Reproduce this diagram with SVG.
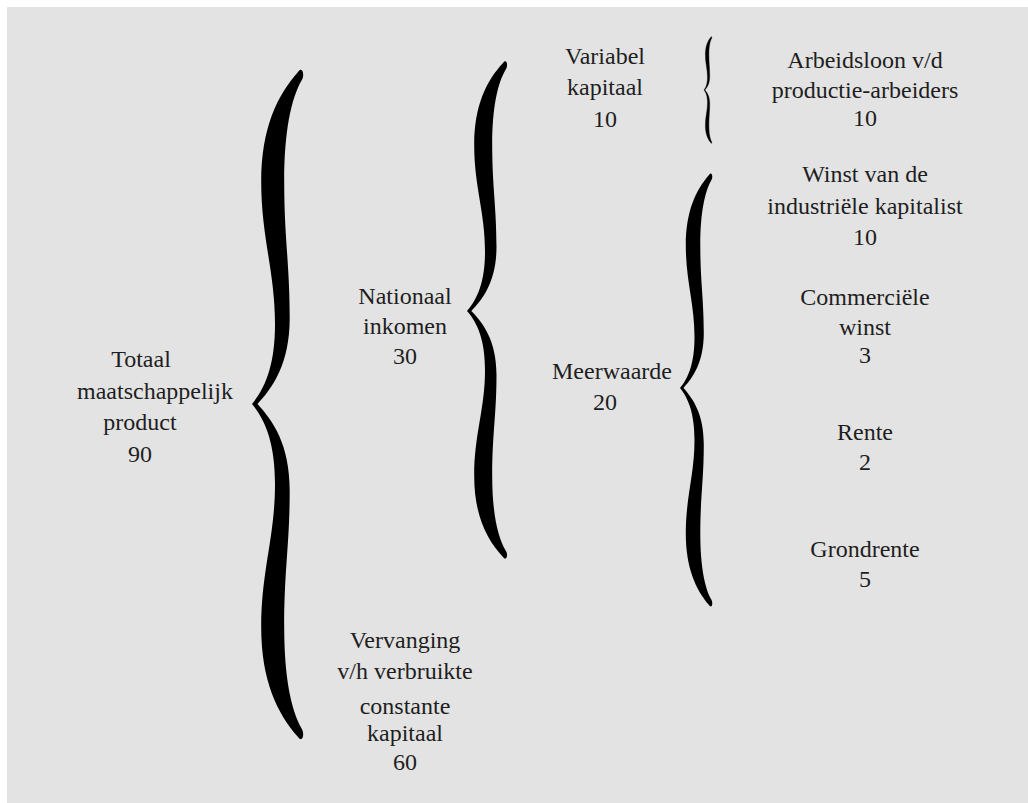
<svg xmlns="http://www.w3.org/2000/svg" width="1028" height="803" viewBox="0 0 1028 803">
<style>
text{font-family:"Liberation Serif","Times New Roman",serif;font-size:24px;fill:#1e1e1e;text-anchor:middle}
.brace{fill:#000}
</style>
<rect x="0" y="0" width="1028" height="803" fill="#ffffff"/>
<rect x="7" y="7" width="1021" height="796" fill="#e3e3e3"/>
<g id="connectors">
<path class="brace" d="M298,72 C277.3,95.2 261.2,128.4 261.2,181.6 C261.2,238 275,271.2 275,324.3 C275,364.2 265.8,387.4 252,404 C265.8,420.7 275,443.9 275,483.9 C275,537.2 261.2,570.5 261.2,627.1 C261.2,680.4 277.3,713.7 298,737 C302.6,743.7 304.9,733.7 301.7,728.7 C291.1,710.4 284.2,677.1 284.2,627.1 C284.2,570.5 289.7,543.9 289.7,490.6 C289.7,443.9 272.7,420.7 257.5,404 C272.7,387.4 289.7,364.2 289.7,317.7 C289.7,264.6 284.2,238 284.2,181.6 C284.2,131.8 291.1,98.6 301.7,80.3 C304.9,75.3 302.6,65.4 298,72 Z"/>
<path class="brace" d="M503,63 C486.8,80.4 474.2,105.2 474.2,144.8 C474.2,187 485,211.8 485,251.5 C485,281.2 477.8,298.6 467,311 C477.8,323.3 485,340.5 485,370 C485,409.4 474.2,434 474.2,475.8 C474.2,515.2 486.8,539.8 503,557 C506.6,561.9 508.4,554.5 505.9,550.9 C497.6,537.3 492.2,512.7 492.2,475.8 C492.2,434 496.5,414.3 496.5,375 C496.5,340.5 483.2,323.3 471.3,311 C483.2,298.6 496.5,281.2 496.5,246.5 C496.5,206.8 492.2,187 492.2,144.8 C492.2,107.6 497.6,82.8 505.9,69.2 C508.4,65.5 506.6,58 503,63 Z"/>
<path class="brace" d="M709,175 C696,189.9 685.8,211.2 685.8,245.3 C685.8,281.5 694.5,302.8 694.5,336.9 C694.5,362.4 688.7,377.4 680,388 C688.7,398.9 694.5,414 694.5,440.1 C694.5,474.8 685.8,496.5 685.8,533.4 C685.8,568.1 696,589.8 709,605 C711.9,609.3 713.4,602.8 711.3,599.6 C704.7,587.6 700.3,565.9 700.3,533.4 C700.3,496.5 703.8,479.1 703.8,444.4 C703.8,414 693.1,398.9 683.5,388 C693.1,377.4 703.8,362.4 703.8,332.6 C703.8,298.5 700.3,281.5 700.3,245.3 C700.3,213.3 704.7,192 711.3,180.3 C713.4,177.1 711.9,170.7 709,175 Z"/>
<path class="brace" stroke="#000" stroke-width="0.4" d="M711,37 C707.9,40.7 705.4,46 705.4,54.5 C705.4,63.5 707.5,68.8 707.5,77.3 C707.5,83.6 706.1,87.4 704,90 C706.1,92.6 707.5,96.4 707.5,102.7 C707.5,111.2 705.4,116.5 705.4,125.5 C705.4,134 707.9,139.3 711,143 C711.7,144.1 712,142.5 711.6,141.7 C710,138.8 708.9,133.5 708.9,125.5 C708.9,116.5 709.7,112.3 709.7,103.8 C709.7,96.4 707.2,92.6 704.8,90 C707.2,87.4 709.7,83.6 709.7,76.2 C709.7,67.7 708.9,63.5 708.9,54.5 C708.9,46.5 710,41.2 711.6,38.3 C712,37.5 711.7,35.9 711,37 Z"/>
</g>
<g id="totaal">
<text x="141" y="367">Totaal</text>
<text x="155" y="399">maatschappelijk</text>
<text x="140" y="430">product</text>
<text x="140" y="462">90</text>
</g>
<g id="nationaal-inkomen">
<text x="405" y="304">Nationaal</text>
<text x="405" y="334">inkomen</text>
<text x="405" y="364">30</text>
</g>
<g id="vervanging">
<text x="405" y="648">Vervanging</text>
<text x="405" y="679">v/h verbruikte</text>
<text x="405" y="714">constante</text>
<text x="405" y="741">kapitaal</text>
<text x="405" y="770">60</text>
</g>
<g id="variabel-kapitaal">
<text x="605" y="64">Variabel</text>
<text x="605" y="95">kapitaal</text>
<text x="605" y="127">10</text>
</g>
<g id="meerwaarde">
<text x="612" y="379">Meerwaarde</text>
<text x="605" y="410">20</text>
</g>
<g id="arbeidsloon">
<text x="865" y="68">Arbeidsloon v/d</text>
<text x="865" y="98">productie-arbeiders</text>
<text x="865" y="126">10</text>
</g>
<g id="winst">
<text x="865" y="182">Winst van de</text>
<text x="865" y="214">industriële kapitalist</text>
<text x="865" y="245">10</text>
</g>
<g id="commerciele-winst">
<text x="865" y="305">Commerciële</text>
<text x="865" y="335">winst</text>
<text x="865" y="363">3</text>
</g>
<g id="rente">
<text x="865" y="440">Rente</text>
<text x="865" y="470">2</text>
</g>
<g id="grondrente">
<text x="865" y="557">Grondrente</text>
<text x="865" y="587">5</text>
</g>
</svg>
